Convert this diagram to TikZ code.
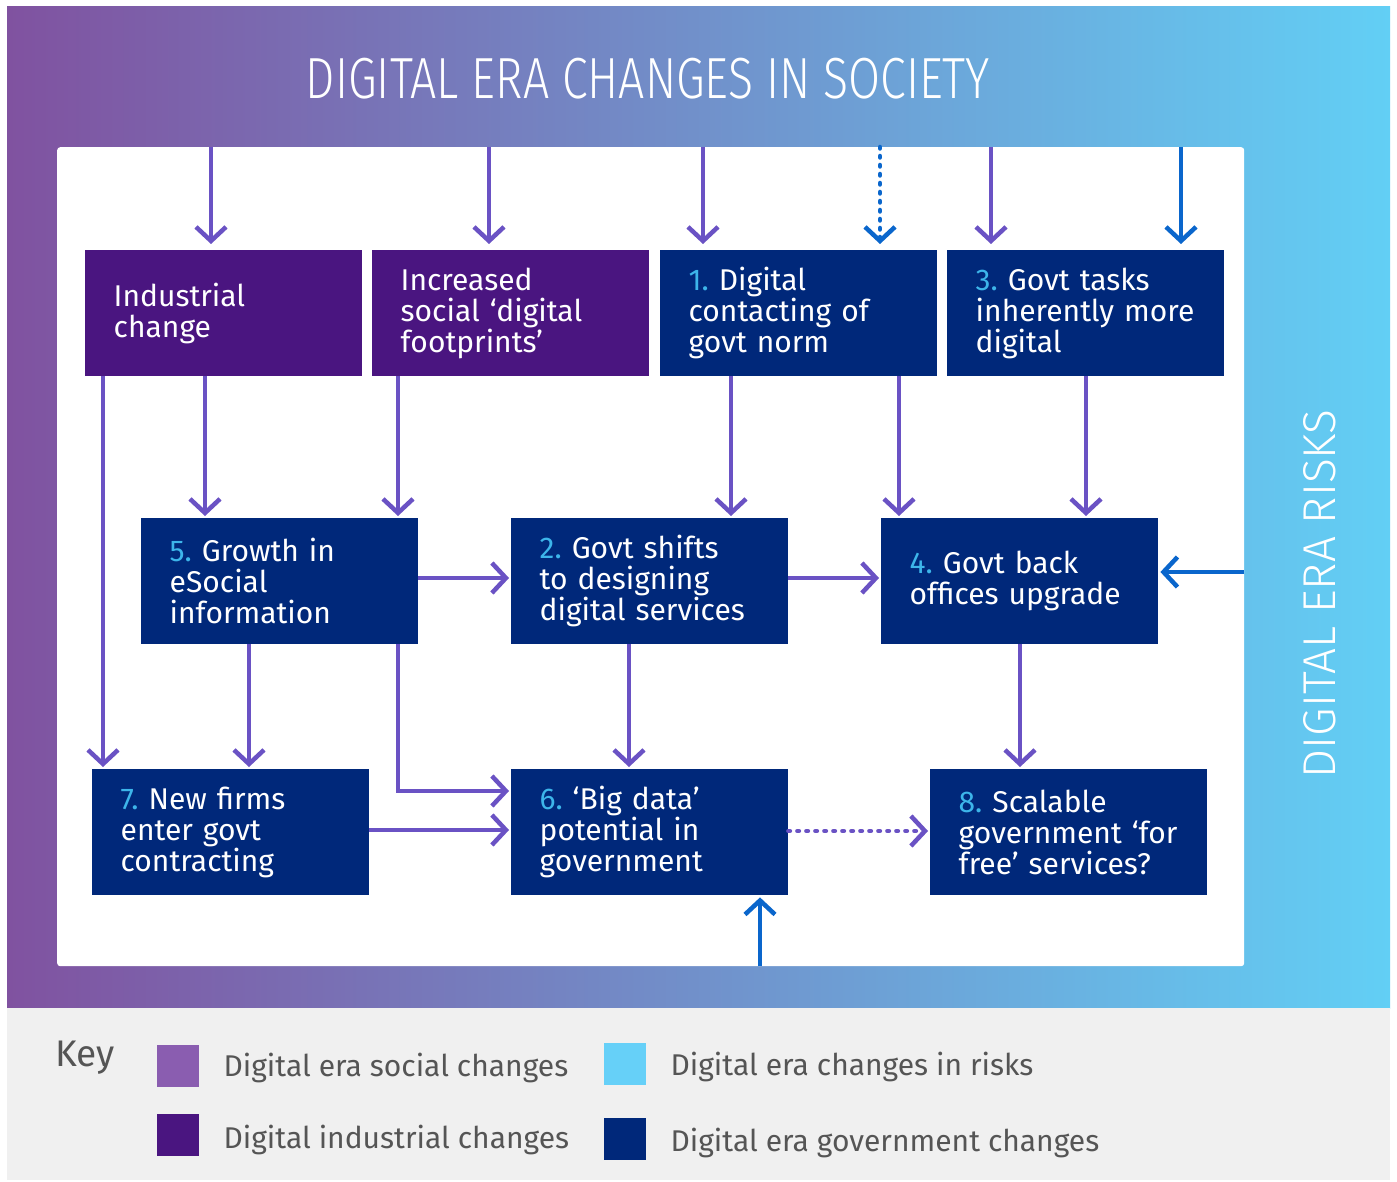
\documentclass[tikz,border=0pt]{standalone}
\usepackage{fontspec}
\setmainfont{Fira Sans}[Numbers=Proportional]
\newfontfamily\boxfont{Fira Sans}[Numbers=Proportional]
\newfontfamily\titlefont{Fira Sans Light}[FakeStretch=0.8]
\newfontfamily\sidefont{Fira Sans Light}
\usetikzlibrary{arrows.meta}

\definecolor{socialc}{HTML}{8052A0}
\definecolor{riskc}{HTML}{62CFF5}
\definecolor{indc}{HTML}{4A1580}
\definecolor{govc}{HTML}{00287A}
\definecolor{arrp}{HTML}{6A52C4}
\definecolor{arrb}{HTML}{0A66CC}
\definecolor{numc}{HTML}{3DB5EA}
\definecolor{keybg}{HTML}{F0F0F0}
\definecolor{keytxt}{HTML}{555555}
\definecolor{swsocial}{HTML}{8A5DB0}
\definecolor{swrisk}{HTML}{66D0F8}

% step number in light blue, followed by a fixed gap
\newcommand{\nb}[1]{\textcolor{numc}{#1.}\hspace{10pt}}

\tikzset{
  box/.style={rectangle, anchor=north west, minimum width=277pt, minimum height=126pt,
    inner xsep=28.5pt, inner ysep=0pt, text width=220pt, align=left, text=white,
    font=\boxfont\fontsize{30}{31}\selectfont},
  indbox/.style={box, fill=indc},
  govbox/.style={box, fill=govc},
  arr/.style={draw=arrp, line width=4.5pt, -{Straight Barb[length=14pt, width=30pt]}},
  barr/.style={arr, draw=arrb},
  dotline/.style={line cap=round, dash pattern=on 1.5pt off 7.5pt},
  keytext/.style={anchor=base west, text=keytxt, font=\boxfont\fontsize{30}{32}\selectfont},
  swatch/.style={anchor=north west, minimum width=42pt, minimum height=42pt, inner sep=0pt}
}

\begin{document}
\begin{tikzpicture}[x=1pt, y=-1pt]
\useasboundingbox (0,0) rectangle (1397,1182);
\fill[white] (0,0) rectangle (1397,1182);

% background bands
\shade[left color=socialc, right color=riskc] (7,7) rectangle (1390,1008);
\fill[keybg] (7,1008) rectangle (1390,1180);
\node[fill=white, rounded corners=3pt, anchor=north west, inner sep=0pt,
      minimum width=1187pt, minimum height=819pt] (panel) at (57,147) {};

% headings
\node[anchor=base, text=white, font=\titlefont\fontsize{58}{60}\selectfont] (title) at (648,99)
  {DIGITAL ERA CHANGES IN SOCIETY};
\node[anchor=base, rotate=90, text=white, font=\sidefont\fontsize{46}{50}\selectfont] (risks) at (1335,594)
  {DIGITAL ERA RISKS};

% boxes
\node[indbox] (ind) at (85,250) {Industrial\\change};
\node[indbox] (soc) at (372,250) {Increased\\social ‘digital\\footprints’};
\node[govbox] (b1) at (660,250) {\nb{1}Digital\\contacting of\\govt norm};
\node[govbox] (b3) at (947,250) {\nb{3}Govt tasks\\inherently more\\digital};
\node[govbox] (b5) at (141,518) {\nb{5}Growth in\\eSocial\\information};
\node[govbox] (b2) at (511,518) {\nb{2}Govt shifts\\to designing\\digital services};
\node[govbox] (b4) at (881,518) {\nb{4}Govt back\\offices upgrade};
\node[govbox] (b7) at (92,769) {\nb{7}New firms\\enter govt\\contracting};
\node[govbox] (b6) at (511,769) {\nb{6}‘Big data’\\potential in\\government};
\node[govbox] (b8) at (930,769) {\nb{8}Scalable\\government ‘for\\free’ services?};

% connector guide positions
\coordinate (ta) at (211,0);
\coordinate (tb) at (489,0);
\coordinate (tc) at (703,0);
\coordinate (td) at (880,0);
\coordinate (te) at (991,0);
\coordinate (tf) at (1181,0);
\coordinate (va) at (103,0);
\coordinate (vb) at (205,0);
\coordinate (vc) at (398,0);
\coordinate (vd) at (731,0);
\coordinate (ve) at (899,0);
\coordinate (vf) at (1086,0);
\coordinate (vg) at (249,0);
\coordinate (vh) at (629,0);
\coordinate (vi) at (1020,0);
\coordinate (vj) at (760,0);
\coordinate (ha) at (0,578);
\coordinate (hb) at (0,572);
\coordinate (hc) at (0,791);
\coordinate (hd) at (0,830);
\coordinate (he) at (0,831);

% inputs from social changes and risks
\draw[arr, shorten >=6pt] (panel.north -| ta) -- (ind.north -| ta);
\draw[arr, shorten >=6pt] (panel.north -| tb) -- (soc.north -| tb);
\draw[arr, shorten >=6pt] (panel.north -| tc) -- (b1.north -| tc);
\draw[barr, dotline, shorten >=6pt] (panel.north -| td) -- (b1.north -| td);
\draw[arr, shorten >=6pt] (panel.north -| te) -- (b3.north -| te);
\draw[barr, shorten >=6pt] (panel.north -| tf) -- (b3.north -| tf);
\draw[barr, shorten >=2pt] (panel.east |- hb) -- (b4.east |- hb);
\draw[barr, shorten >=2pt] (panel.south -| vj) -- (b6.south -| vj);

% links between changes
\draw[arr, shorten >=2pt] (ind.south -| va) -- (b7.north -| va);
\draw[arr, shorten >=2pt] (ind.south -| vb) -- (b5.north -| vb);
\draw[arr, shorten >=2pt] (soc.south -| vc) -- (b5.north -| vc);
\draw[arr, shorten >=2pt] (b1.south -| vd) -- (b2.north -| vd);
\draw[arr, shorten >=2pt] (b1.south -| ve) -- (b4.north -| ve);
\draw[arr, shorten >=2pt] (b3.south -| vf) -- (b4.north -| vf);
\draw[arr, shorten >=2pt] (b5.east |- ha) -- (b2.west |- ha);
\draw[arr, shorten >=2pt] (b2.east |- ha) -- (b4.west |- ha);
\draw[arr, shorten >=2pt] (b5.south -| vg) -- (b7.north -| vg);
\draw[arr, shorten >=2pt] (b5.south -| vc) |- (b6.west |- hc);
\draw[arr, shorten >=2pt] (b2.south -| vh) -- (b6.north -| vh);
\draw[arr, shorten >=2pt] (b4.south -| vi) -- (b8.north -| vi);
\draw[arr, shorten >=2pt] (b7.east |- hd) -- (b6.west |- hd);
\draw[arr, dotline, shorten >=2pt] (b6.east |- he) -- (b8.west |- he);

% key
\node[anchor=base west, text=keytxt, font=\boxfont\fontsize{37}{40}\selectfont] (key) at (52,1066) {Key};
\node[swatch, fill=swsocial] (ks) at (157,1045) {};
\node[keytext] (kst) at (220,1076) {Digital era social changes};
\node[swatch, fill=indc] (ki) at (157,1114) {};
\node[keytext] (kit) at (220,1148) {Digital industrial changes};
\node[swatch, fill=swrisk] (kr) at (604,1043) {};
\node[keytext] (krt) at (667,1075) {Digital era changes in risks};
\node[swatch, fill=govc] (kg) at (604,1118) {};
\node[keytext] (kgt) at (667,1151) {Digital era government changes};
\end{tikzpicture}
\end{document}
